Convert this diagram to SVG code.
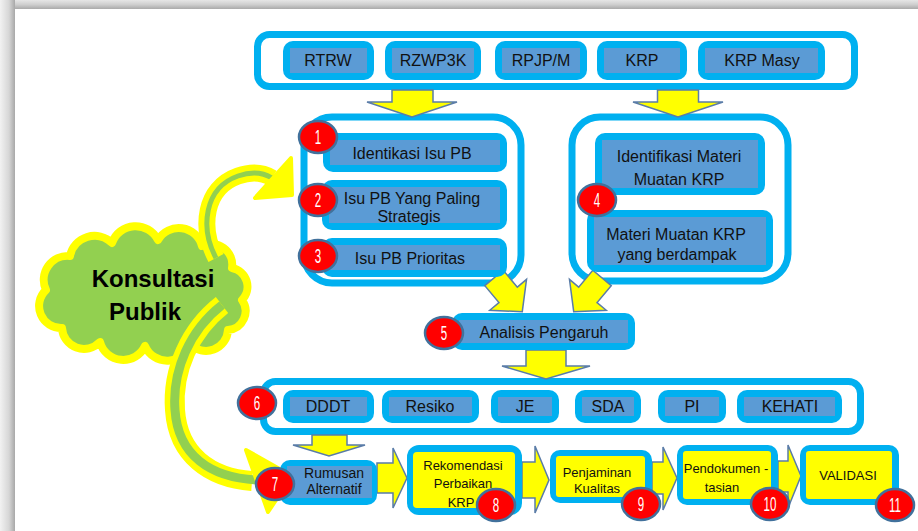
<svg xmlns="http://www.w3.org/2000/svg" width="918" height="531" viewBox="0 0 918 531">
<defs>
<linearGradient id="gTop" x1="0" y1="0" x2="0" y2="1"><stop offset="0" stop-color="#e6e6e6"/><stop offset="0.5" stop-color="#cfcfcf"/><stop offset="1" stop-color="#aaaaaa"/></linearGradient>
<linearGradient id="gLeft" x1="0" y1="0" x2="1" y2="0"><stop offset="0" stop-color="#f2f2f2"/><stop offset="0.6" stop-color="#d6d6d6"/><stop offset="1" stop-color="#a8a8a8"/></linearGradient>
<style>
.cont{fill:#fff;stroke:#00b0f0;stroke-width:7}
.bc{fill:#00b0f0}
.bi{fill:#5b9bd5}
.yi{fill:#ffff00}
.t{font-family:"Liberation Sans",Arial,sans-serif;fill:#111;text-anchor:middle}
.s16{font-size:16px}
.s14{font-size:14px}
.s13{font-size:13px}
.cb{font-family:"Liberation Sans",Arial,sans-serif;font-weight:bold;font-size:24px;fill:#000;text-anchor:middle}
.nc{fill:#ff0000;stroke:#41719c;stroke-width:2.5}
.n{font-family:"Liberation Sans",Arial,sans-serif;font-size:21px;fill:#fff;text-anchor:middle}
.arr{fill:#ffff00;stroke:#5a7ca8;stroke-width:1.5;stroke-linejoin:miter}
.cy{fill:none;stroke:#ffff00;stroke-linecap:butt}
.cg{fill:none;stroke:#92d050;stroke-linecap:butt}
</style>
</defs>
<rect x="0" y="0" width="918" height="531" fill="#fff"/>
<rect x="0" y="0" width="918" height="9" fill="url(#gTop)"/>
<rect x="0" y="0" width="15" height="531" fill="url(#gLeft)"/>

<g id="cloud">
<path d="M46,290 A24,24 0 0 1 70,256 A25,25 0 0 1 112,243 A25,25 0 0 1 158,240 A24,24 0 0 1 202,246 A21,21 0 0 1 232,268 A19,19 0 0 1 242,300 A19,19 0 0 1 228,330 A22,22 0 0 1 190,344 A24,24 0 0 1 145,346 A24,24 0 0 1 100,342 A22,22 0 0 1 62,328 A22,22 0 0 1 46,290 Z" fill="#92d050" stroke="#ffff00" stroke-width="8" stroke-linejoin="round"/>
<text class="cb" x="153" y="287">Konsultasi</text>
<text class="cb" x="145" y="320">Publik</text>
</g>

<g id="box-top"><rect class="cont" x="257.5" y="34.5" width="597" height="52" rx="12"/></g>
<g id="box-left"><rect class="cont" x="304" y="117" width="217" height="166" rx="28"/></g>
<g id="box-right"><rect class="cont" x="572" y="117" width="216" height="164" rx="28"/></g>
<g id="box-6"><rect class="cont" x="263.5" y="381.5" width="597" height="50" rx="12"/></g>

<g id="connectors">
<polygon class="arr" points="392,90 433,90 433,102 457,102 412,117 367,102 392,102"/>
<polygon class="arr" points="657.5,90 698.5,90 698.5,102 723,102 678,117 633,102 657.5,102"/>
<path class="arr" transform="translate(494 278) rotate(50)" d="M0,-12 L22,-12 L22,-24 L44,0 L22,24 L22,12 L0,12 Z"/>
<path class="arr" transform="translate(602 278) rotate(130)" d="M0,-12 L22,-12 L22,-24 L44,0 L22,24 L22,12 L0,12 Z"/>
<polygon class="arr" points="526,350 566,350 566,366 590,366 546,379 502,366 526,366"/>
<polygon class="arr" points="312,435 347,435 347,445 365,445 329,456 293,445 312,445"/>
<polygon class="arr" points="377,463 393,463 393,448 407,478 393,508 393,493 377,493"/>
<polygon class="arr" points="522,462 535,462 535,446 549,480 535,513 535,498 522,498"/>
<polygon class="arr" points="652,462 663,462 663,447 677,478 663,510 663,494 652,494"/>
<polygon class="arr" points="778,461 788,461 788,445 801,476 788,508 788,492 778,492"/>
<path class="cy" stroke-width="17" d="M216,258 C200,228 204,188 238,176 C252,171 264,173 272,178"/>
<path class="cg" stroke="#c9e27f" stroke-width="5" d="M216,258 C200,228 204,188 238,176 C252,171 264,173 272,178"/>
<polygon points="291,158 255,198 292,195" fill="#ffff00" stroke="#ffff00" stroke-width="4" stroke-linejoin="round"/>
<path class="cy" stroke-width="20" d="M222,305 C190,330 172,370 175,410 C178,455 210,478 252,481"/>
<path class="cg" stroke-width="9" d="M222,305 C190,330 172,370 175,410 C178,455 210,478 258,480"/>
<polygon points="246,450 268,512 292,476" fill="#ffff00" stroke="#ffff00" stroke-width="4" stroke-linejoin="round"/>
</g>

<g id="n-rtrw"><rect class="bc" x="283" y="41" width="91" height="39" rx="10"/><rect class="bi" x="290" y="48" width="77" height="25"/><text class="t s16" x="328" y="66">RTRW</text></g>
<g id="n-rzwp3k"><rect class="bc" x="385" y="41" width="96" height="39" rx="10"/><rect class="bi" x="392" y="48" width="82" height="25"/><text class="t s16" x="433" y="66">RZWP3K</text></g>
<g id="n-rpjpm"><rect class="bc" x="495" y="41" width="92" height="39" rx="10"/><rect class="bi" x="502" y="48" width="78" height="25"/><text class="t s16" x="541" y="66">RPJP/M</text></g>
<g id="n-krp"><rect class="bc" x="597" y="41" width="90" height="39" rx="10"/><rect class="bi" x="604" y="48" width="76" height="25"/><text class="t s16" x="642" y="66">KRP</text></g>
<g id="n-krpmasy"><rect class="bc" x="698" y="41" width="127" height="39" rx="10"/><rect class="bi" x="705" y="48" width="113" height="25"/><text class="t s16" x="762" y="66">KRP Masy</text></g>

<g id="n-1"><rect class="bc" x="323" y="133" width="184" height="39" rx="10"/><rect class="bi" x="330" y="140" width="170" height="25"/><text class="t s16" x="412" y="159">Identikasi Isu PB</text></g>
<g id="n-2"><rect class="bc" x="322" y="180" width="185" height="50" rx="10"/><rect class="bi" x="329" y="187" width="171" height="36"/><text class="t s16" x="412" y="204">Isu PB Yang Paling</text><text class="t s16" x="409" y="222">Strategis</text></g>
<g id="n-3"><rect class="bc" x="322" y="238" width="185" height="39" rx="10"/><rect class="bi" x="329" y="245" width="171" height="25"/><text class="t s16" x="410" y="264">Isu PB Prioritas</text></g>
<g id="n-4a"><rect class="bc" x="595" y="133" width="170" height="62" rx="10"/><rect class="bi" x="602" y="140" width="156" height="48"/><text class="t s16" x="679" y="162">Identifikasi Materi</text><text class="t s16" x="679" y="185">Muatan KRP</text></g>
<g id="n-4b"><rect class="bc" x="587" y="210" width="186" height="62" rx="10"/><rect class="bi" x="594" y="217" width="172" height="48"/><text class="t s16" x="676" y="240">Materi Muatan KRP</text><text class="t s16" x="677" y="260">yang berdampak</text></g>
<g id="n-5"><rect class="bc" x="452" y="313" width="183" height="37" rx="10"/><rect class="bi" x="459" y="320" width="169" height="23"/><text class="t s16" x="544" y="338">Analisis Pengaruh</text></g>

<g id="n-dddt"><rect class="bc" x="283" y="390" width="91" height="33" rx="10"/><rect class="bi" x="290" y="397" width="77" height="19"/><text class="t s16" x="328" y="412">DDDT</text></g>
<g id="n-resiko"><rect class="bc" x="382" y="390" width="97" height="33" rx="10"/><rect class="bi" x="389" y="397" width="83" height="19"/><text class="t s16" x="430" y="412">Resiko</text></g>
<g id="n-je"><rect class="bc" x="491" y="390" width="68" height="33" rx="10"/><rect class="bi" x="498" y="397" width="54" height="19"/><text class="t s16" x="525" y="412">JE</text></g>
<g id="n-sda"><rect class="bc" x="575" y="390" width="66" height="33" rx="10"/><rect class="bi" x="582" y="397" width="52" height="19"/><text class="t s16" x="608" y="412">SDA</text></g>
<g id="n-pi"><rect class="bc" x="658" y="390" width="68" height="33" rx="10"/><rect class="bi" x="665" y="397" width="54" height="19"/><text class="t s16" x="692" y="412">PI</text></g>
<g id="n-kehati"><rect class="bc" x="737" y="390" width="105" height="33" rx="10"/><rect class="bi" x="744" y="397" width="91" height="19"/><text class="t s16" x="790" y="412">KEHATI</text></g>

<g id="n-7"><rect class="bc" x="280" y="460" width="97" height="45" rx="10"/><rect class="bi" x="287" y="466" width="85" height="32"/><text class="t s14" x="334" y="478">Rumusan</text><text class="t s14" x="334" y="494">Alternatif</text></g>
<g id="n-8"><rect class="bc" x="407" y="445" width="115" height="70" rx="12"/><rect class="yi" x="413" y="452" width="102" height="56" rx="4"/><text class="t s13" x="463" y="470">Rekomendasi</text><text class="t s13" x="463" y="488">Perbaikan</text><text class="t s13" x="461" y="507">KRP</text></g>
<g id="n-9"><rect class="bc" x="550" y="450" width="102" height="53" rx="10"/><rect class="yi" x="556" y="456" width="89" height="41" rx="3"/><text class="t s13" x="597" y="477">Penjaminan</text><text class="t s13" x="597" y="493">Kualitas</text></g>
<g id="n-10"><rect class="bc" x="677" y="445" width="101" height="60" rx="10"/><rect class="yi" x="683" y="451" width="88" height="48" rx="3"/><text class="t s13" x="726" y="473">Pendokumen -</text><text class="t s13" x="722" y="492">tasian</text></g>
<g id="n-11"><rect class="bc" x="800" y="445" width="99" height="60" rx="10"/><rect class="yi" x="806" y="451" width="86" height="48" rx="3"/><text class="t s13" x="848" y="480">VALIDASI</text></g>

<g id="num-1"><ellipse class="nc" cx="318" cy="137" rx="19" ry="16"/><text class="n" transform="translate(318 144) scale(0.55 1)">1</text></g>
<g id="num-2"><ellipse class="nc" cx="318" cy="200" rx="19" ry="16"/><text class="n" transform="translate(318 207) scale(0.55 1)">2</text></g>
<g id="num-3"><ellipse class="nc" cx="318" cy="256" rx="19" ry="16"/><text class="n" transform="translate(318 263) scale(0.55 1)">3</text></g>
<g id="num-4"><ellipse class="nc" cx="597" cy="200" rx="19" ry="16"/><text class="n" transform="translate(597 207) scale(0.55 1)">4</text></g>
<g id="num-5"><ellipse class="nc" cx="444" cy="333" rx="19" ry="16"/><text class="n" transform="translate(444 340) scale(0.55 1)">5</text></g>
<g id="num-6"><ellipse class="nc" cx="257" cy="403" rx="19" ry="16"/><text class="n" transform="translate(257 410) scale(0.55 1)">6</text></g>
<g id="num-7"><ellipse class="nc" cx="275" cy="484" rx="19" ry="16"/><text class="n" transform="translate(275 491) scale(0.55 1)">7</text></g>
<g id="num-8"><ellipse class="nc" cx="496" cy="505" rx="19" ry="16"/><text class="n" transform="translate(496 512) scale(0.55 1)">8</text></g>
<g id="num-9"><ellipse class="nc" cx="641" cy="504" rx="19" ry="16"/><text class="n" transform="translate(641 511) scale(0.55 1)">9</text></g>
<g id="num-10"><ellipse class="nc" cx="770" cy="504" rx="19" ry="16"/><text class="n" transform="translate(770 511) scale(0.55 1)">10</text></g>
<g id="num-11"><ellipse class="nc" cx="895" cy="505" rx="19" ry="16"/><text class="n" transform="translate(895 512) scale(0.55 1)">11</text></g>
</svg>
